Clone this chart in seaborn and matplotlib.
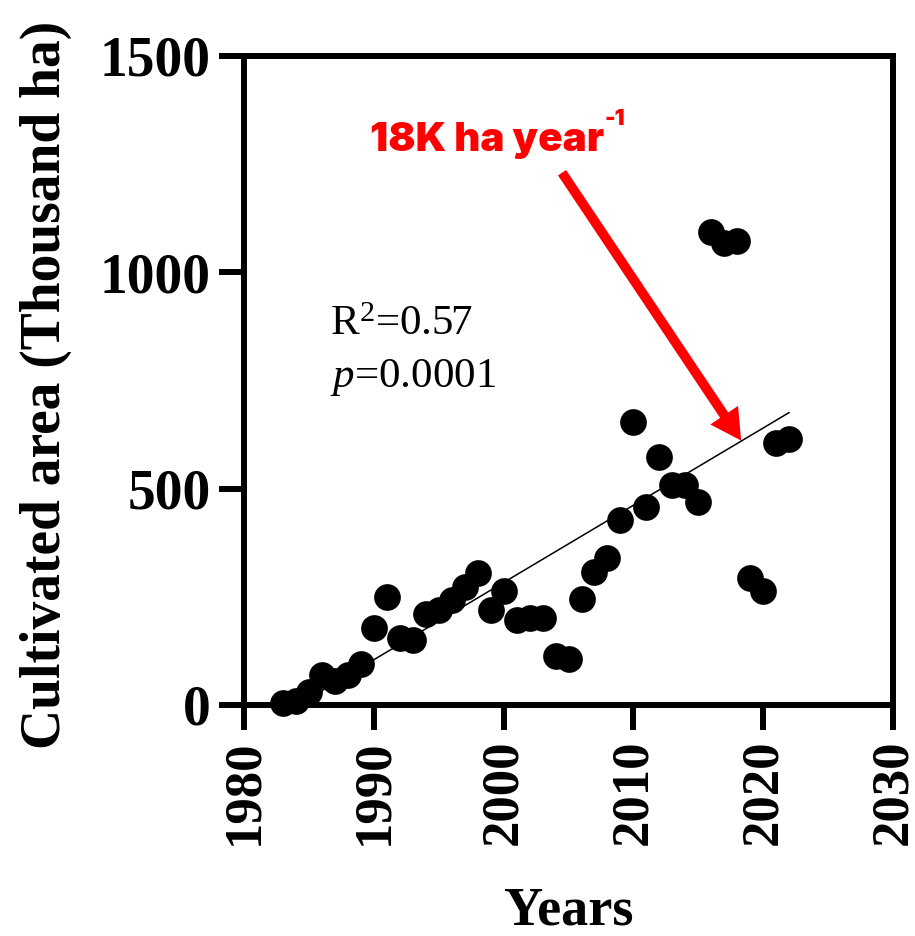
import numpy as np
import pandas as pd
import matplotlib
matplotlib.use("Agg")
import matplotlib.pyplot as plt
import seaborn as sns

# Cultivated area per year (thousand ha)
years = [1983, 1984, 1985, 1986, 1987, 1988, 1989, 1990, 1991, 1992,
         1993, 1994, 1995, 1996, 1997, 1998, 1999, 2000, 2001, 2002,
         2003, 2004, 2005, 2006, 2007, 2008, 2009, 2010, 2011, 2012,
         2013, 2014, 2015, 2016, 2017, 2018, 2019, 2020, 2021, 2022]
area = [5, 10, 30, 70, 55, 70, 95, 178, 250, 155,
        150, 210, 220, 243, 272, 305, 220, 263, 196, 200,
        200, 113, 106, 245, 307, 340, 427, 653, 457, 572,
        508, 508, 468, 1092, 1068, 1073, 293, 263, 605, 614]

x_ticks = [1980, 1990, 2000, 2010, 2020, 2030]
y_ticks = [0, 500, 1000, 1500]
r2_text = "R$^{2}$=0.57"
p_text = "$p$=0.0001"
rate_text = "18K ha year"
rate_sup = "-1"

df = pd.DataFrame({"Years": years, "Area": area})

sns.set_theme(style="ticks")
plt.rcParams["font.family"] = ["Liberation Serif", "DejaVu Serif"]
plt.rcParams["mathtext.fontset"] = "custom"
plt.rcParams["mathtext.rm"] = "Liberation Serif"
plt.rcParams["mathtext.it"] = "Liberation Serif:italic"
for key in ["text.color", "axes.labelcolor", "xtick.color", "ytick.color"]:
    plt.rcParams[key] = "black"

fig = plt.figure(figsize=(9.15, 9.36), dpi=100)
ax = fig.add_axes([0.2667, 0.2468, 0.7093, 0.6935])

sns.regplot(data=df, x="Years", y="Area", ax=ax, ci=None,
            scatter_kws=dict(s=370, color="black", linewidths=0,
                             clip_on=False, zorder=5, alpha=1),
            line_kws=dict(color="black", lw=1.1, zorder=4))

ax.set_xlim(1980, 2030)
ax.set_ylim(0, 1500)
ax.set_xticks(x_ticks)
ax.set_yticks(y_ticks)

for side in ["left", "right", "top", "bottom"]:
    ax.spines[side].set_visible(True)
    ax.spines[side].set_linewidth(4.3)
    ax.spines[side].set_color("black")

ax.tick_params(axis="both", direction="out", length=18, width=4.3,
               color="black", labelcolor="black")
ax.tick_params(axis="y", pad=6, labelsize=40)
ax.tick_params(axis="x", pad=7, labelrotation=90, labelsize=38)
for lab in ax.get_xticklabels() + ax.get_yticklabels():
    lab.set_fontweight("bold")

ax.set_xlabel("Years", fontsize=39, fontweight="bold")
ax.set_ylabel("Cultivated area (Thousand ha)", fontsize=40,
              fontweight="bold")
ax.xaxis.set_label_coords(0.5, -0.28)
ax.yaxis.set_label_coords(-0.265, 0.493)

# Fit statistics
ax.text(1986.6, 854, r2_text, fontsize=31, color="black",
        ha="left", va="baseline")
ax.text(1986.6, 734, p_text, fontsize=31, color="black",
        ha="left", va="baseline")

# Rate of increase with arrow pointing at the trend line
t = ax.text(1989.7, 1281, rate_text, fontsize=29, family="Inter",
            fontweight="black", color="red", ha="left", va="baseline")
ax.annotate(rate_sup, xy=(1.0, 0.8), xycoords=t, fontsize=16,
            family="Inter", fontweight="black", color="red",
            ha="left", va="bottom")
ax.annotate("", xy=(2018.3, 611), xytext=(2004.5, 1230),
            arrowprops=dict(color="red", width=7, headwidth=24,
                            headlength=22, shrink=0, linewidth=0))

fig.savefig("out.png", dpi=100)
